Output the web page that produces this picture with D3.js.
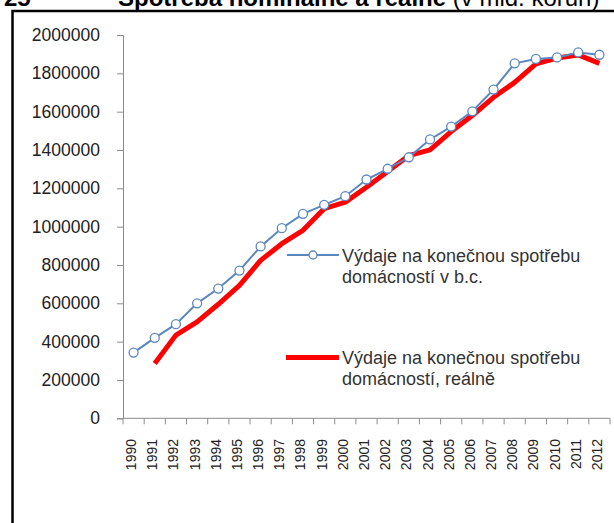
<!DOCTYPE html>
<html>
<head>
<meta charset="utf-8">
<script src="https://cdn.jsdelivr.net/npm/d3@7"></script>
<style>
  body { margin: 0; background: #fff; }
  svg { display: block; font-family: "Liberation Sans", Arial, sans-serif; }
</style>
</head>
<body>
<div id="chart"></div>
<script>
// roky
const years = ["1990","1991","1992","1993","1994","1995","1996","1997","1998","1999","2000",
  "2001","2002","2003","2004","2005","2006","2007","2008","2009","2010","2011","2012"];
// výdaje v b.c.
const nominal = [343000, 420000, 491000, 600000, 677000, 771000, 897000, 992000, 1067000, 1114000,
  1159000, 1246000, 1302000, 1362000, 1455000, 1522000, 1602000, 1715000, 1852000, 1875000,
  1883000, 1909000, 1897000];
// výdaje reálně (od 1991)
const real = [null, 286000, 434000, 503000, 595000, 694000, 824000, 911000, 981000, 1094000,
  1128000, 1206000, 1288000, 1371000, 1401000, 1496000, 1580000, 1675000, 1753000, 1849000,
  1880000, 1896000, 1852000];
const yTicks = [0, 200000, 400000, 600000, 800000, 1000000, 1200000, 1400000, 1600000, 1800000, 2000000];
const legendLabels = [
  ["Výdaje na konečnou spotřebu", "domácností v b.c."],
  ["Výdaje na konečnou spotřebu", "domácností, reálně"]
];

let width = 614;
let height = 523;
let svg = d3.select("#chart").append("svg")
  .attr("width", width)
  .attr("height", height);

// titulek (oříznutý nahoře)
let title = svg.append("text").attr("y", 6).attr("font-size", 24).attr("fill", "#000");
title.append("tspan").attr("x", 4).attr("font-weight", "bold").text("25");
title.append("tspan").attr("x", 118).attr("font-weight", "bold").text("Spotřeba nominálně a reálně");
title.append("tspan").attr("font-weight", "normal").text(" (v mld. korun)");

// rámeček
svg.append("path")
  .attr("d", "M12.5,540V11H620")
  .attr("fill", "none")
  .attr("stroke", "#000")
  .attr("stroke-width", 2.5);

let x = d3.scaleBand().domain(years).range([123, 610]).padding(0);
let y = d3.scaleLinear().domain([0, 2000000]).range([418.3, 35]);

let axisColor = "#8c8c8c";

// osa y
let yAxis = svg.append("g")
  .attr("transform", "translate(123,0)")
  .call(d3.axisLeft(y).tickValues(yTicks).tickSize(6).tickPadding(17).tickFormat(d3.format("d")));
yAxis.select(".domain").attr("stroke", axisColor);
yAxis.selectAll(".tick line").attr("stroke", axisColor);
yAxis.selectAll(".tick text")
  .attr("font-size", 17.5)
  .attr("fill", "#222")
  .attr("font-family", "Liberation Sans, Arial, sans-serif");

// osa x
let xg = svg.append("g");
xg.append("line")
  .attr("x1", x.range()[0]).attr("x2", x.range()[1])
  .attr("y1", y(0)).attr("y2", y(0))
  .attr("stroke", axisColor);
let bounds = years.map(d => x(d)).concat([x.range()[1]]);
xg.selectAll("line.tk").data(bounds).enter().append("line")
  .attr("class", "tk")
  .attr("x1", d => d).attr("x2", d => d)
  .attr("y1", y(0)).attr("y2", y(0) + 6)
  .attr("stroke", axisColor);
xg.selectAll("text").data(years).enter().append("text")
  .attr("transform", d => "translate(" + (x(d) + x.bandwidth() / 2 + 2.5) + "," + 439 + ") rotate(-90)")
  .attr("text-anchor", "end")
  .attr("font-size", 14)
  .attr("fill", "#222")
  .text(d => d);

let cx = (d, i) => x(years[i]) + x.bandwidth() / 2;

// reálně
let realLine = d3.line()
  .defined(d => d != null)
  .x(cx)
  .y(d => y(d));
svg.append("path")
  .datum(real)
  .attr("fill", "none")
  .attr("stroke", "#ff0000")
  .attr("stroke-width", 5)
  .attr("stroke-linejoin", "round")
  .attr("d", realLine);

// nominálně
let nomLine = d3.line().x(cx).y(d => y(d));
svg.append("path")
  .datum(nominal)
  .attr("fill", "none")
  .attr("stroke", "#5a87c0")
  .attr("stroke-width", 2)
  .attr("d", nomLine);
svg.selectAll("circle.pt").data(nominal).enter().append("circle")
  .attr("class", "pt")
  .attr("cx", cx)
  .attr("cy", d => y(d))
  .attr("r", 4.5)
  .attr("fill", "#fff")
  .attr("stroke", "#5a87c0")
  .attr("stroke-width", 1.3);

// legenda
let lg = svg.append("g");
lg.append("line").attr("x1", 287).attr("x2", 339).attr("y1", 255).attr("y2", 255)
  .attr("stroke", "#5a87c0").attr("stroke-width", 2);
lg.append("circle").attr("cx", 313).attr("cy", 255).attr("r", 4)
  .attr("fill", "#fff").attr("stroke", "#5a87c0").attr("stroke-width", 1.3);
lg.append("line").attr("x1", 286).attr("x2", 339).attr("y1", 357.5).attr("y2", 357.5)
  .attr("stroke", "#ff0000").attr("stroke-width", 5);

[[262], [364]].forEach((pos, k) => {
  let t = lg.append("text").attr("font-size", 18).attr("fill", "#333");
  legendLabels[k].forEach((line, j) => {
    t.append("tspan").attr("x", 342).attr("y", pos[0] + j * 21).text(line);
  });
});
</script>
</body>
</html>
